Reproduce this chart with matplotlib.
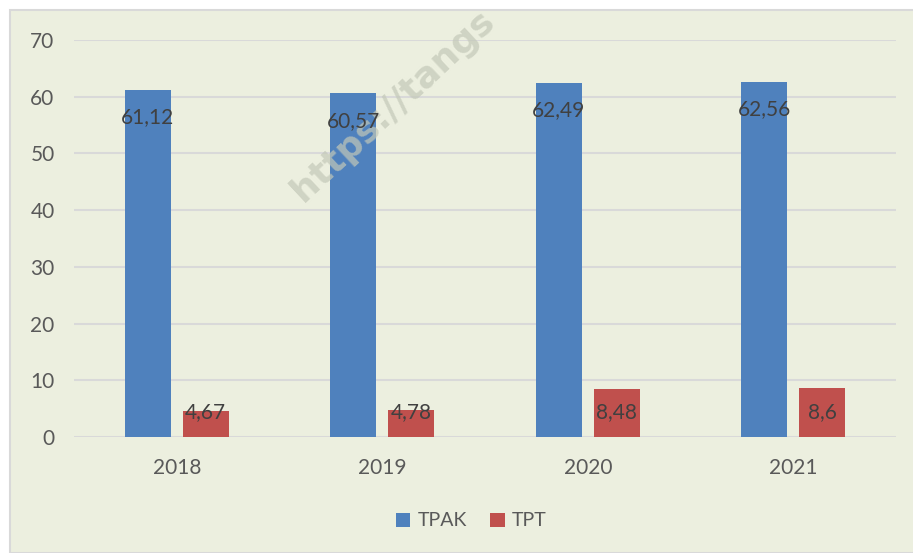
import matplotlib
matplotlib.use("Agg")
import matplotlib.pyplot as plt
from matplotlib.patches import Rectangle
import numpy as np

years = ["2018", "2019", "2020", "2021"]
tpak = [61.12, 60.57, 62.49, 62.56]
tpt = [4.67, 4.78, 8.48, 8.60]
tpak_labels = ["61,12", "60,57", "62,49", "62,56"]
tpt_labels = ["4,67", "4,78", "8,48", "8,6"]
series_names = ["TPAK", "TPT"]
yticks = [0, 10, 20, 30, 40, 50, 60, 70]

W, H = 913, 553
fig = plt.figure(figsize=(W / 100, H / 100), dpi=100)
fig.patch.set_facecolor("white")
bg = "#ECEFDF"
fig.patches.append(Rectangle((10 / W, 0), 1, 1 - 10 / H, transform=fig.transFigure,
                             facecolor=bg, edgecolor="#D9D9D9", linewidth=1.5, zorder=-1))

ax = fig.add_axes([74 / W, 1 - 437 / H, (896 - 74) / W, (437 - 40) / H])
ax.set_zorder(1)
ax.set_facecolor("none")
font = "Lato"
x = np.arange(len(years))
bw = 0.224
off = 0.141
ax.bar(x - off, tpak, bw, color="#4F81BD", zorder=3, label=series_names[0])
ax.bar(x + off, tpt, bw, color="#C0504D", zorder=3, label=series_names[1])

ax.set_ylim(0, 70)
ax.set_xlim(-0.5, len(years) - 0.5)
ax.set_yticks(yticks)
ax.set_xticks(x)
ax.set_xticklabels(years)
ax.yaxis.grid(True, color="#D9D9D9", linewidth=1.5, zorder=0)
ax.set_axisbelow(True)
for s in ax.spines.values():
    s.set_visible(False)
ax.tick_params(length=0, labelsize=15, labelcolor="#595959")
ax.tick_params(axis="y", pad=14)
ax.tick_params(axis="x", pad=15)
for lab in ax.get_xticklabels() + ax.get_yticklabels():
    lab.set_fontfamily(font)

for i in range(len(years)):
    ax.text(x[i] - off, max(tpak[i] - 4.8, 4.4), tpak_labels[i], ha="center", va="center",
            fontsize=15, color="#404040", family=font, zorder=5)
    ax.text(x[i] + off, max(tpt[i] - 4.4, 4.4), tpt_labels[i], ha="center", va="center",
            fontsize=15, color="#404040", family=font, zorder=5)

leg = fig.legend(loc="center", bbox_to_anchor=(471 / W, 1 - 521 / H), ncol=2, frameon=False,
                 handlelength=0.75, handleheight=0.75, handletextpad=0.35, columnspacing=1.2,
                 prop={"family": font, "size": 14})
for t in leg.get_texts():
    t.set_color("#595959")

ax.text(308 / W, 1 - 208 / H, "https://tangs", rotation=43, fontsize=26, fontweight="bold",
        color="#C3C8B8", alpha=0.7, family="DejaVu Sans", ha="left", va="bottom",
        rotation_mode="anchor", zorder=4, transform=fig.transFigure, clip_on=False)

fig.savefig("out.png", dpi=100, facecolor=fig.get_facecolor())
